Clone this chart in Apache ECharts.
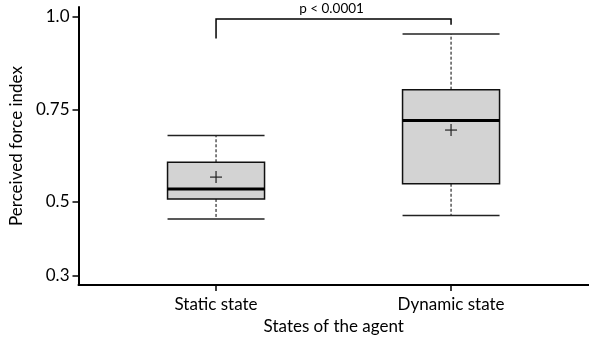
<!DOCTYPE html>
<html><head><meta charset="utf-8">
<script src="https://cdn.jsdelivr.net/npm/echarts@6/dist/echarts.min.js"></script>
<style>html,body{margin:0;padding:0;background:#fff}#c{width:589px;height:342px}</style>
</head><body><div id="c"></div>
<script>
// categories and their positions
const categories = ['Static state', 'Dynamic state'];
const categoryPos = [1, 2];
// box statistics: [whiskerLow, Q1, median, Q3, whiskerHigh]
const staticBox = [0.454, 0.508, 0.535, 0.607, 0.679];
const dynamicBox = [0.463, 0.549, 0.720, 0.803, 0.953];
const means = [0.567, 0.694];
// y tick values and labels
const yTickValues = [0.3, 0.5, 0.75, 1.0];
const yTickLabels = ['0.3', '0.5', '0.75', '1.0'];
// significance bracket
const bracketTop = 0.994;
const bracketLegEnds = [0.941, 0.978];
const bracketLabel = 'p < 0.0001';

const FONT = 'Lato';
const boxes = [staticBox, dynamicBox];
const boxData = boxes.map((b, i) => [categoryPos[i]].concat(b).concat([means[i]]));

const chart = echarts.init(document.getElementById('c'), null, {renderer: 'canvas'});
chart.setOption({
  backgroundColor: '#fff',
  animation: false,
  grid: {left: 73, right: 0, top: 7, bottom: 57, containLabel: false},
  xAxis: {
    type: 'value', min: 0.4147, max: 2.587,
    splitLine: {show: false},
    axisLine: {show: true, lineStyle: {color: '#000', width: 2}},
    axisTick: {show: true, customValues: categoryPos, length: 6, lineStyle: {color: '#000', width: 1.5}},
    axisLabel: {customValues: categoryPos, margin: 11, color: '#000', fontFamily: FONT, fontSize: 17,
      formatter: v => categories[categoryPos.indexOf(v)] || ''},
    name: 'States of the agent', nameLocation: 'middle', nameGap: 31,
    nameTextStyle: {color: '#000', fontFamily: FONT, fontSize: 17}
  },
  yAxis: {
    type: 'value', min: 0.2757, max: 1.0262,
    splitLine: {show: false},
    axisLine: {show: true, lineStyle: {color: '#000', width: 2}},
    axisTick: {show: true, customValues: yTickValues, length: 6, lineStyle: {color: '#000', width: 1.5}},
    axisLabel: {customValues: yTickValues, margin: 9, color: '#000', fontFamily: FONT, fontSize: 17,
      formatter: v => yTickLabels[yTickValues.indexOf(v)]},
    name: 'Perceived force index', nameLocation: 'middle', nameGap: 50,
    nameTextStyle: {color: '#000', fontFamily: FONT, fontSize: 17}
  },
  series: [{
    type: 'custom',
    data: boxData,
    renderItem: function (params, api) {
      const x = api.value(0);
      const half = 48.5;
      const pLow = api.coord([x, api.value(1)]);
      const pQ1 = api.coord([x, api.value(2)]);
      const pMed = api.coord([x, api.value(3)]);
      const pQ3 = api.coord([x, api.value(4)]);
      const pHigh = api.coord([x, api.value(5)]);
      const pMean = api.coord([x, api.value(6)]);
      const cx = pMed[0];
      const dash = {stroke: '#000', lineWidth: 1, lineDash: [3, 2]};
      const cap = {stroke: '#222', lineWidth: 1.5};
      return {type: 'group', children: [
        {type: 'line', shape: {x1: cx, y1: pQ3[1], x2: cx, y2: pHigh[1]}, style: dash},
        {type: 'line', shape: {x1: cx, y1: pQ1[1], x2: cx, y2: pLow[1]}, style: dash},
        {type: 'line', shape: {x1: cx - half, y1: pHigh[1], x2: cx + half, y2: pHigh[1]}, style: cap},
        {type: 'line', shape: {x1: cx - half, y1: pLow[1], x2: cx + half, y2: pLow[1]}, style: cap},
        {type: 'rect', shape: {x: cx - half, y: pQ3[1], width: half * 2, height: pQ1[1] - pQ3[1]},
          style: {fill: '#d3d3d3', stroke: '#111', lineWidth: 1.5}},
        {type: 'line', shape: {x1: cx - half, y1: pMed[1], x2: cx + half, y2: pMed[1]}, style: {stroke: '#000', lineWidth: 3}},
        {type: 'line', shape: {x1: cx - 6, y1: pMean[1], x2: cx + 6, y2: pMean[1]}, style: {stroke: '#222', lineWidth: 1.2}},
        {type: 'line', shape: {x1: cx, y1: pMean[1] - 6, x2: cx, y2: pMean[1] + 6}, style: {stroke: '#222', lineWidth: 1.2}}
      ]};
    }
  }, {
    type: 'custom',
    data: [[categoryPos[0], categoryPos[1], bracketTop, bracketLegEnds[0], bracketLegEnds[1]]],
    renderItem: function (params, api) {
      const pL = api.coord([api.value(0), api.value(2)]);
      const pR = api.coord([api.value(1), api.value(2)]);
      const lL = api.coord([api.value(0), api.value(3)]);
      const lR = api.coord([api.value(1), api.value(4)]);
      return {type: 'group', children: [
        {type: 'polyline', shape: {points: [[lL[0], lL[1]], pL, pR, [lR[0], lR[1]]]},
          style: {stroke: '#000', lineWidth: 1.5, fill: null}},
        {type: 'text', x: (pL[0] + pR[0]) / 2 - 2, y: pL[1] - 3,
          style: {text: bracketLabel, fontFamily: FONT, fontSize: 13.5, fill: '#000', align: 'center', verticalAlign: 'bottom'}}
      ]};
    }
  }]
});
</script></body></html>
